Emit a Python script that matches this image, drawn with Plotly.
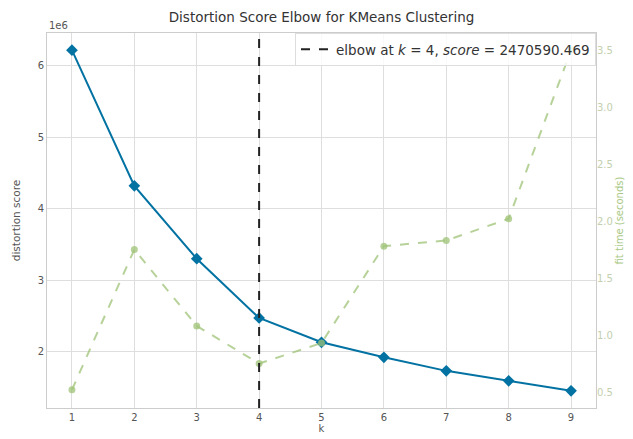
import plotly.graph_objects as go

# ---- data ----
k_values = [1, 2, 3, 4, 5, 6, 7, 8, 9]
distortion = [6220000, 4320000, 3300000, 2470590.469, 2130000, 1920000, 1730000, 1590000, 1450000]
fit_time = [0.52, 1.75, 1.08, 0.75, 0.93, 1.78, 1.83, 2.02, 3.50]
elbow_k = 4
elbow_score = 2470590.469
x_ticks = [1, 2, 3, 4, 5, 6, 7, 8, 9]
y_ticks = [2, 3, 4, 5, 6]
y2_ticks = [0.5, 1.0, 1.5, 2.0, 2.5, 3.0, 3.5]

FONT = "DejaVu Sans, Liberation Sans, Arial, sans-serif"
BLUE = "#0272a2"
GREEN = "rgba(159,195,119,0.75)"
GRID = "#dedede"

fig = go.Figure()

fig.add_trace(go.Scatter(
    x=k_values, y=[v / 1e6 for v in distortion], mode="lines+markers",
    line=dict(color=BLUE, width=2), marker=dict(symbol="diamond", size=9, color=BLUE),
    showlegend=False, name="distortion score", yaxis="y"))

fig.add_trace(go.Scatter(
    x=k_values, y=fit_time, mode="lines+markers",
    line=dict(color=GREEN, width=2, dash="dash"), marker=dict(symbol="circle", size=7, color=GREEN),
    showlegend=False, name="fit time", yaxis="y2"))

# legend entry for the elbow line
fig.add_trace(go.Scatter(
    x=[None], y=[None], mode="lines",
    line=dict(color="#222222", width=2, dash="dash"),
    name="elbow at <i>k</i> = %d, <i>score</i> = %.3f" % (elbow_k, elbow_score),
    showlegend=True))

fig.add_shape(type="line", xref="x", yref="paper", x0=elbow_k, x1=elbow_k, y0=0, y1=1,
              line=dict(color="#222222", width=2, dash="dash"), layer="above")

# the page body adds an 8px offset at left/top; size the figure to compensate
fig.update_layout(
    template="none",
    width=625, height=431,
    margin=dict(l=39, r=37, t=25, b=31),
    paper_bgcolor="white", plot_bgcolor="white",
    font=dict(family=FONT, size=10, color="#555555"),
    title=dict(text="Distortion Score Elbow for KMeans Clustering", x=0.5, xref="paper",
               y=1, yref="container", yanchor="top", pad=dict(t=5),
               font=dict(size=13.5, color="#333333", family=FONT)),
    xaxis=dict(range=[0.6, 9.4], tickvals=x_ticks, showgrid=True, gridcolor=GRID, gridwidth=1,
               zeroline=False, showline=True, linecolor="#cccccc", mirror=True, ticks="",
               tickfont=dict(size=10, color="#555555"),
               title=dict(text="k", standoff=1, font=dict(size=10, color="#555555")),
               automargin=False),
    yaxis=dict(range=[1.21, 6.46], tickvals=y_ticks, showgrid=True, gridcolor=GRID, gridwidth=1,
               zeroline=False, showline=True, linecolor="#cccccc", mirror=True, ticks="",
               tickfont=dict(size=10, color="#555555"),
               title=dict(text="distortion score", standoff=14, font=dict(size=10.5, color="#555555")),
               automargin=False),
    yaxis2=dict(range=[0.36, 3.65], tickvals=y2_ticks, tickformat=".1f", overlaying="y", side="right",
                showgrid=False, zeroline=False, showline=False, ticks="",
                tickfont=dict(size=10, color="#c3cfae"),
                title=dict(text="fit time (seconds)", standoff=4,
                           font=dict(size=10, color="rgba(159,195,119,0.9)")),
                automargin=False),
    legend=dict(x=1, xanchor="right", y=1, yanchor="top", bgcolor="rgba(255,255,255,0.8)",
                bordercolor="#dddddd", borderwidth=1, itemwidth=30,
                font=dict(size=13.5, color="#333333", family=FONT)),
    annotations=[dict(text="1e6", xref="paper", yref="paper", x=0, y=1, xanchor="left",
                      yanchor="bottom", showarrow=False, font=dict(size=10, color="#555555"),
                      yshift=0)],
)

fig.write_html("out.html")
